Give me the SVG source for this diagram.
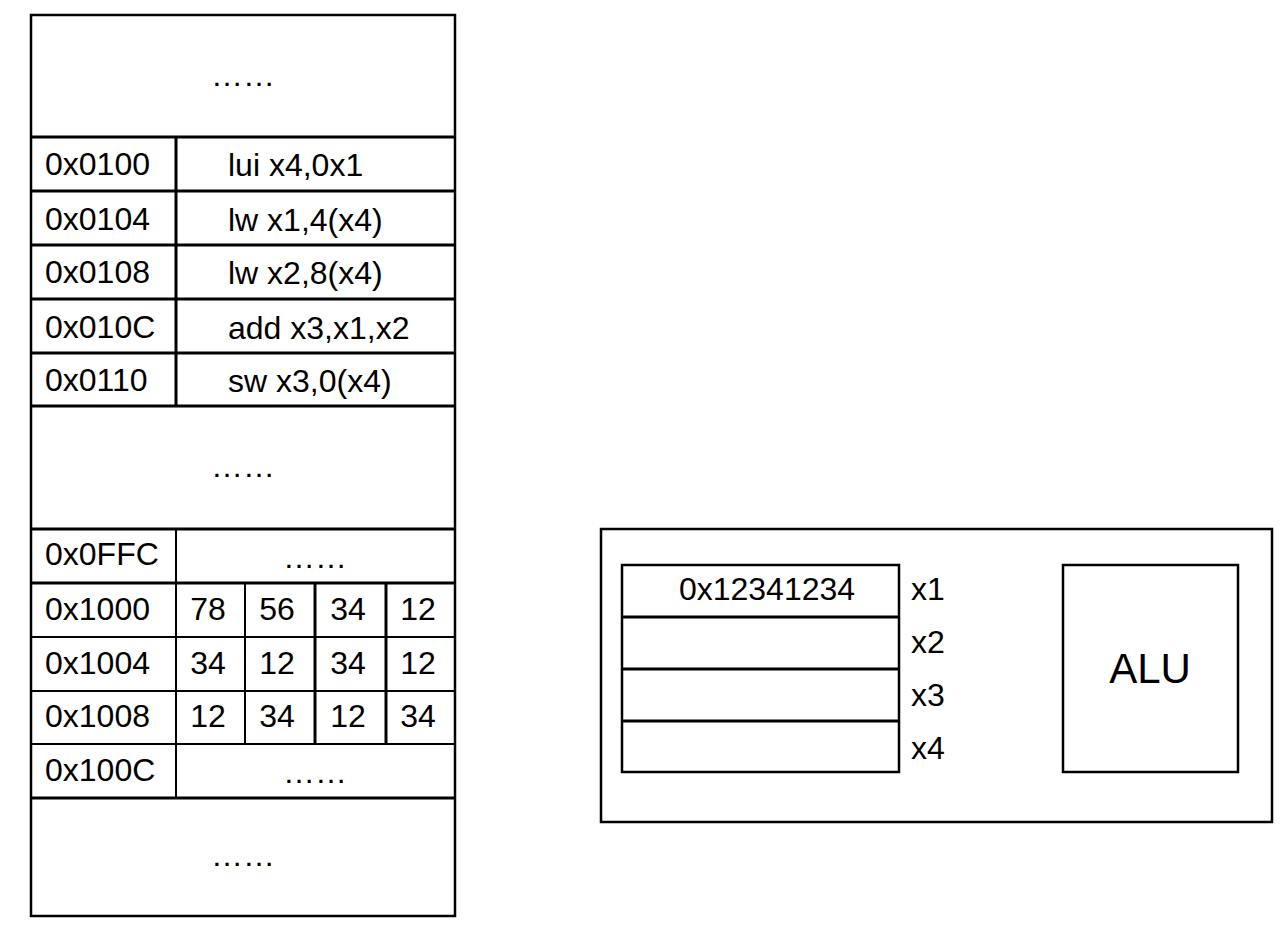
<svg xmlns="http://www.w3.org/2000/svg" width="1285" height="925" viewBox="0 0 1285 925">
<style>
.t{font-family:"Liberation Sans",Arial,sans-serif;font-size:32px;fill:#000}
.m{text-anchor:middle}
.b{fill:none;stroke:#000;stroke-width:2.5}
.l{stroke:#000;stroke-width:3}
.s{stroke:#000;stroke-width:2}
</style>
<rect width="1285" height="925" fill="#fff"/>
<g id="memory">
<rect class="b" x="31" y="15" width="424" height="901"/>
<g id="mem-lines">
<line class="l" x1="31" y1="137" x2="455" y2="137"/>
<line class="l" x1="31" y1="191" x2="455" y2="191"/>
<line class="l" x1="31" y1="245" x2="455" y2="245"/>
<line class="l" x1="31" y1="299" x2="455" y2="299"/>
<line class="l" x1="31" y1="353" x2="455" y2="353"/>
<line class="l" x1="31" y1="406" x2="455" y2="406"/>
<line class="l" x1="31" y1="529" x2="455" y2="529"/>
<line class="l" x1="31" y1="583" x2="455" y2="583"/>
<line class="s" x1="31" y1="637" x2="455" y2="637"/>
<line class="s" x1="31" y1="691" x2="455" y2="691"/>
<line class="s" x1="31" y1="744" x2="455" y2="744"/>
<line class="l" x1="31" y1="798" x2="455" y2="798"/>
<line class="l" x1="176" y1="137" x2="176" y2="406"/>
<line class="s" x1="176" y1="529" x2="176" y2="798"/>
<line class="s" x1="245" y1="583" x2="245" y2="744"/>
<line class="l" x1="315" y1="583" x2="315" y2="744"/>
<line class="l" x1="386" y1="583" x2="386" y2="744"/>
</g>
<g id="mem-top"><text class="t m" x="243" y="86">……</text></g>
<g id="row-0100"><text class="t" x="45" y="175">0x0100</text><text class="t" x="228" y="176">lui x4,0x1</text></g>
<g id="row-0104"><text class="t" x="45" y="230">0x0104</text><text class="t" x="228" y="231">lw x1,4(x4)</text></g>
<g id="row-0108"><text class="t" x="45" y="283">0x0108</text><text class="t" x="228" y="284">lw x2,8(x4)</text></g>
<g id="row-010C"><text class="t" x="45" y="338">0x010C</text><text class="t" x="228" y="339">add x3,x1,x2</text></g>
<g id="row-0110"><text class="t" x="45" y="391">0x0110</text><text class="t" x="228" y="392">sw x3,0(x4)</text></g>
<g id="mem-mid"><text class="t m" x="243" y="477">……</text></g>
<g id="row-0FFC"><text class="t" x="45" y="565">0x0FFC</text><text class="t m" x="315" y="568">……</text></g>
<g id="row-1000"><text class="t" x="45" y="620">0x1000</text><text class="t m" x="208" y="620">78</text><text class="t m" x="277" y="620">56</text><text class="t m" x="348" y="620">34</text><text class="t m" x="418" y="620">12</text></g>
<g id="row-1004"><text class="t" x="45" y="674">0x1004</text><text class="t m" x="208" y="674">34</text><text class="t m" x="277" y="674">12</text><text class="t m" x="348" y="674">34</text><text class="t m" x="418" y="674">12</text></g>
<g id="row-1008"><text class="t" x="45" y="727">0x1008</text><text class="t m" x="208" y="727">12</text><text class="t m" x="277" y="727">34</text><text class="t m" x="348" y="727">12</text><text class="t m" x="418" y="727">34</text></g>
<g id="row-100C"><text class="t" x="45" y="781">0x100C</text><text class="t m" x="315" y="783">……</text></g>
<g id="mem-bottom"><text class="t m" x="243" y="866">……</text></g>
</g>
<g id="cpu">
<rect class="b" x="601" y="529" width="671" height="293"/>
<g id="regfile">
<rect class="b" x="622" y="565" width="277" height="207"/>
<line class="l" x1="622" y1="617" x2="899" y2="617"/>
<line class="l" x1="622" y1="669" x2="899" y2="669"/>
<line class="l" x1="622" y1="721" x2="899" y2="721"/>
<text class="t m" x="767" y="600">0x12341234</text>
<text class="t" x="911" y="600">x1</text>
<text class="t" x="911" y="653">x2</text>
<text class="t" x="911" y="706">x3</text>
<text class="t" x="911" y="759">x4</text>
</g>
<g id="alu">
<rect class="b" x="1063" y="565" width="175" height="207"/>
<text class="t m" x="1150" y="683" style="font-size:42px">ALU</text>
</g>
</g>
<g id="connectors"/>
</svg>
